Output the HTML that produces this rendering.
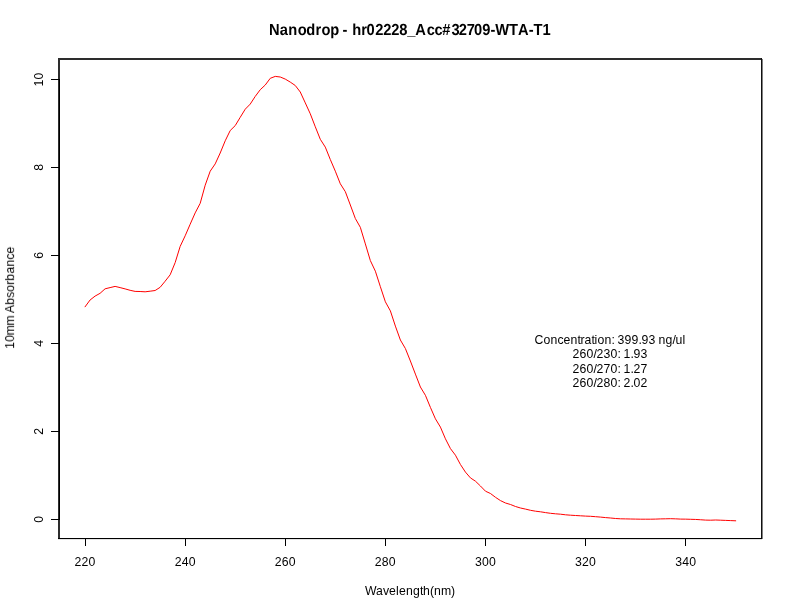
<!DOCTYPE html>
<html>
<head>
<meta charset="utf-8">
<title>Nanodrop - hr02228_Acc#32709-WTA-T1</title>
<style>
html,body{margin:0;padding:0;background:#fff;}
body{width:792px;height:612px;overflow:hidden;}
svg{display:block;}
text{font-family:"Liberation Sans",sans-serif;fill:#000;}
</style>
</head>
<body>
<svg width="792" height="612" viewBox="0 0 792 612">
<rect x="0" y="0" width="792" height="612" fill="#ffffff"/>
<polyline fill="none" stroke="#ff0000" stroke-width="1" stroke-linejoin="round" stroke-linecap="round" points="85.07,306.80 90.07,300.00 95.08,296.10 100.08,293.30 105.09,288.80 110.09,287.60 115.10,286.40 120.10,287.60 125.11,288.90 130.12,290.30 135.12,291.40 140.12,291.50 145.13,291.80 150.13,291.20 155.14,290.50 160.14,287.30 165.15,281.20 170.15,274.80 175.16,262.60 180.16,246.40 185.17,235.80 190.18,224.20 195.18,212.90 200.19,203.30 205.19,185.20 210.19,171.20 215.20,163.90 220.20,153.00 225.21,140.80 230.22,130.50 235.22,125.60 240.22,117.30 245.23,109.20 250.23,104.10 255.24,96.40 260.25,89.70 265.25,85.00 270.25,78.30 275.26,76.40 280.26,77.00 285.27,79.10 290.27,82.10 295.28,85.50 300.28,92.00 305.29,102.90 310.29,113.80 315.30,126.80 320.30,139.30 325.31,147.10 330.31,159.50 335.32,171.20 340.32,183.80 345.33,191.70 350.33,205.00 355.34,218.50 360.34,227.30 365.35,243.90 370.35,260.60 375.36,271.20 380.37,286.70 385.37,301.80 390.38,310.90 395.38,326.10 400.38,340.00 405.39,348.50 410.39,361.00 415.40,374.10 420.40,387.00 425.41,395.30 430.41,407.40 435.42,418.80 440.43,427.10 445.43,438.80 450.44,448.60 455.44,455.20 460.44,464.50 465.45,472.10 470.45,477.90 475.46,481.20 480.46,486.00 485.47,491.20 490.47,493.50 495.48,497.30 500.48,500.60 505.49,503.00 510.50,504.50 515.50,506.50 520.50,508.00 525.51,509.10 530.51,510.30 535.52,511.20 540.52,511.80 545.53,512.60 550.53,513.30 555.54,513.80 560.54,514.20 565.55,514.80 570.56,515.20 575.56,515.50 580.57,515.80 585.57,516.10 590.58,516.30 595.58,516.70 600.59,517.10 605.59,517.60 610.60,518.00 615.60,518.50 620.61,518.80 625.61,518.90 630.62,519.00 635.62,519.10 640.62,519.20 645.63,519.20 650.63,519.20 655.64,519.10 660.64,518.90 665.65,518.80 670.65,518.70 675.66,518.85 680.66,519.10 685.67,519.15 690.67,519.30 695.68,519.45 700.68,519.75 705.69,520.10 710.69,520.20 715.70,520.00 720.70,520.20 725.71,520.40 730.71,520.60 735.72,520.80"/>
<g shape-rendering="crispEdges" stroke="none">
<rect x="58" y="58" width="704" height="2" fill="#2d2d2d"/>
<rect x="58" y="58" width="2" height="481" fill="#2d2d2d"/>
<rect x="761" y="58" width="1" height="481" fill="#111111"/>
<rect x="762" y="59" width="1" height="480" fill="#808080"/>
<rect x="58" y="538" width="704" height="1" fill="#000000"/>
<rect x="58" y="539" width="704" height="1" fill="#e4e4e4"/>
<rect x="59" y="79" width="1" height="441" fill="#000"/>
<rect x="85" y="538" width="1" height="8" fill="#000"/>
<rect x="185" y="538" width="1" height="8" fill="#000"/>
<rect x="285" y="538" width="1" height="8" fill="#000"/>
<rect x="385" y="538" width="1" height="8" fill="#000"/>
<rect x="485" y="538" width="1" height="8" fill="#000"/>
<rect x="585" y="538" width="1" height="8" fill="#000"/>
<rect x="685" y="538" width="1" height="8" fill="#000"/>
<rect x="51" y="519" width="8" height="1" fill="#000"/>
<rect x="51" y="431" width="8" height="1" fill="#000"/>
<rect x="51" y="343" width="8" height="1" fill="#000"/>
<rect x="51" y="255" width="8" height="1" fill="#000"/>
<rect x="51" y="167" width="8" height="1" fill="#000"/>
<rect x="51" y="79" width="8" height="1" fill="#000"/>
</g>
<g opacity="0.999">
<text font-size="12.25" x="74.57 81.57 88.57" y="565.70">220</text>
<text font-size="12.25" x="174.67 181.67 188.67" y="565.70">240</text>
<text font-size="12.25" x="274.77 281.77 288.77" y="565.70">260</text>
<text font-size="12.25" x="374.87 381.87 388.87" y="565.70">280</text>
<text font-size="12.25" x="474.97 481.97 488.97" y="565.70">300</text>
<text font-size="12.25" x="575.07 582.07 589.07" y="565.70">320</text>
<text font-size="12.25" x="675.17 682.17 689.17" y="565.70">340</text>
<text font-size="12.25" transform="translate(43.10,519.20) rotate(-90)" x="-3.50" y="0">0</text>
<text font-size="12.25" transform="translate(43.10,431.24) rotate(-90)" x="-3.50" y="0">2</text>
<text font-size="12.25" transform="translate(43.10,343.28) rotate(-90)" x="-3.50" y="0">4</text>
<text font-size="12.25" transform="translate(43.10,255.32) rotate(-90)" x="-3.50" y="0">6</text>
<text font-size="12.25" transform="translate(43.10,167.36) rotate(-90)" x="-3.50" y="0">8</text>
<text font-size="12.25" transform="translate(43.10,79.40) rotate(-90)" x="-7.00 0.00" y="0">10</text>
<text font-size="12.25" x="365.10 376.10 383.10 389.10 396.10 399.10 406.10 413.10 420.10 423.10 430.10 434.10 441.10 451.10" y="595.00">Wavelength(nm)</text>
<text font-size="12.25" transform="translate(14.10,298.80) rotate(-90)" x="-50.10 -43.04 -36.58 -26.82 -17.26 -14.20 -6.14 0.92 6.98 14.04 18.10 25.16 32.22 39.28 45.34" y="0">10mm Absorbance</text>
<text font-size="12.25" x="534.40 543.40 550.40 557.40 563.40 570.40 577.40 580.40 584.40 591.40 594.40 597.40 604.40 611.40 614.40 617.40 624.40 631.40 638.40 641.40 648.40 655.40 658.40 665.40 672.40 675.40 682.40" y="343.80">Concentration: 399.93 ng/ul</text>
<text font-size="12.25" x="572.40 579.40 586.40 593.40 596.40 603.40 610.40 617.40 620.40 623.40 630.40 633.40 640.40" y="358.00">260/230: 1.93</text>
<text font-size="12.25" x="572.40 579.40 586.40 593.40 596.40 603.40 610.40 617.40 620.40 623.40 630.40 633.40 640.40" y="372.50">260/270: 1.27</text>
<text font-size="12.25" x="572.40 579.40 586.40 593.40 596.40 603.40 610.40 617.40 620.40 623.40 630.40 633.40 640.40" y="386.50">260/280: 2.02</text>
<text style="text-rendering:geometricPrecision" transform="translate(0,35.00) scale(1,1.09)" font-size="14.7" font-weight="bold" x="269.09 279.83 288.20 297.69 306.36 315.50 321.49 330.20 339.18 342.59 347.49 352.14 361.30 366.58 375.35 383.35 391.25 399.29 407.15 415.29 426.79 434.39 442.30 451.42 458.65 466.83 474.08 482.15 490.39 495.34 508.89 517.99 528.79 533.59 542.57" y="0">Nanodrop - hr02228_Acc#32709-WTA-T1</text>
</g>
</svg>
</body>
</html>
